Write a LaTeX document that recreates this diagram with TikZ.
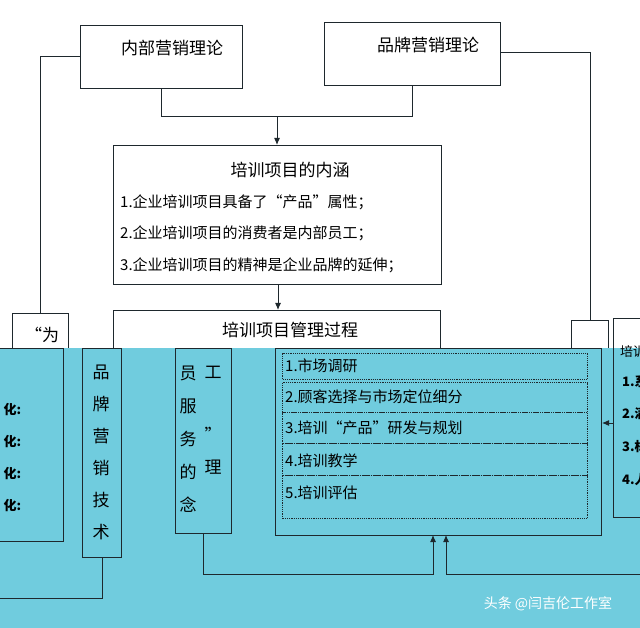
\documentclass[tikz,border=0pt]{standalone}
\usepackage{fontspec}
\setmainfont{Noto Sans CJK SC}
\usetikzlibrary{arrows.meta,positioning}
\definecolor{tealBg}{RGB}{112,204,222}
\definecolor{edge}{RGB}{30,40,45}
\tikzstyle{arrow} = [draw=edge, -{Latex[length=7pt,width=6pt]}, line width=1pt]
\tikzstyle{line} = [draw=edge, line width=1pt]
\tikzstyle{theoryBlock} = [draw=edge, line width=1pt, rectangle, anchor=north west,
    inner sep=0pt, font=\fontsize{17}{20}\selectfont]
\tikzstyle{itemText} = [anchor=west, inner sep=0pt, font=\fontsize{15}{18}\selectfont]
\tikzstyle{stepBlock} = [draw=edge, line width=1.2pt, densely dotted, anchor=north west,
    minimum width=305pt, inner sep=0pt]
\tikzstyle{colChar} = [inner sep=0pt, font=\fontsize{17}{20}\selectfont]

\begin{document}
\begin{tikzpicture}[x=1pt, y=-1pt]
      \useasboundingbox (0,0) rectangle (640,628);
      \clip (0,0) rectangle (640,628);
      % upper part
      \node [theoryBlock, minimum width=162pt, minimum height=63pt] (inner) at (80,25) {};
      \node at (172,48) [font=\fontsize{17}{20}\selectfont] {内部营销理论};
      \node [theoryBlock, minimum width=176pt, minimum height=63pt] (brand) at (324,22) {};
      \node at (428,45) [font=\fontsize{17}{20}\selectfont] {品牌营销理论};

      \node [theoryBlock, minimum width=328pt, minimum height=139pt] (meaning) at (113,145) {};
      \node at (290,170) [font=\fontsize{17}{20}\selectfont] {培训项目的内涵};
      \node [itemText] at (120,202) {1.企业培训项目具备了“产品”属性；};
      \node [itemText] at (120,233) {2.企业培训项目的消费者是内部员工；};
      \node [itemText] at (120,265) {3.企业培训项目的精神是企业品牌的延伸；};

      \node [theoryBlock, minimum width=327pt, minimum height=80pt] (process) at (113,310) {};
      \node at (290,330) [font=\fontsize{17}{20}\selectfont] {培训项目管理过程};
      \node [theoryBlock, minimum width=56pt, minimum height=60pt] (serve) at (12,313) {};
      \node at (42,335) [font=\fontsize{17}{20}\selectfont] {“为};
      \node [theoryBlock, minimum width=37pt, minimum height=60pt] (rightTop) at (571,320) {};

      \coordinate (join) at (277,117);
      \path [line] (inner.south) |- (join);
      \path [line] (brand.south) |- (join);
      \path [arrow] (join) -- (meaning.north -| join);
      \path [arrow] (meaning.south -| 278,0) -- (process.north -| 278,0);
      \path [line] (inner.west |- 0,57) -| (serve.north -| 40,0);
      \path [line] (brand.east |- 0,53) -| (rightTop.north -| 590,0);

      % lower part
      \fill [tealBg] (0,348) rectangle (640,628);
      \node [theoryBlock, minimum width=80pt, minimum height=193pt] (cultureBox) at (-17,348) {};
      \foreach \y in {410,442,474,506}
        \node [anchor=west, font=\fontsize{13}{16}\selectfont\bfseries] at (0,\y) {化:};
      \node [theoryBlock, minimum width=39pt, minimum height=209pt] (tech) at (82,348) {};
      \foreach \c [count=\i] in {品,牌,营,销,技,术}
        \node [colChar] at (101,340+32*\i) {\c};
      \node [theoryBlock, minimum width=56pt, minimum height=185pt] (idea) at (175,348) {};
      \foreach \c [count=\i] in {员,服,务,的,念}
        \node [colChar] at (188,340+33*\i) {\c};
      \node [colChar] at (213,372) {工};
      \node [colChar] at (213,434) {”};
      \node [colChar] at (213,467) {理};

      \node [theoryBlock, minimum width=326pt, minimum height=187pt] (steps) at (275,348) {};
      \node [stepBlock, minimum height=26pt] (s1) at (282,353) {};
      \node [stepBlock, minimum height=30pt] (s2) at (282,382) {};
      \node [stepBlock, minimum height=31pt] (s3) at (282,412) {};
      \node [stepBlock, minimum height=32pt] (s4) at (282,443) {};
      \node [stepBlock, minimum height=43pt] (s5) at (282,475) {};
      \node [itemText] at (285,366) {1.市场调研};
      \node [itemText] at (285,397) {2.顾客选择与市场定位细分};
      \node [itemText] at (285,428) {3.培训“产品”研发与规划};
      \node [itemText] at (285,461) {4.培训教学};
      \node [itemText] at (285,493) {5.培训评估};

      \node [theoryBlock, minimum width=50pt, minimum height=199pt] (ability) at (613,318) {};
      \node [itemText, font=\fontsize{13}{16}\selectfont] at (620,352) {培训};
      \foreach \t/\y in {1.系/382,2.满/414,3.标/447,4.人/480}
        \node [itemText, font=\fontsize{13}{16}\selectfont\bfseries] at (622,\y) {\t};

      \path [line] (tech.south) |- (0,598);
      \path [arrow] (idea.south) |- (433,574) -- (433,535);
      \path [arrow] (640,574) -| (446,535);
      \path [arrow] (ability.west |- 0,423) -- (steps.east |- 0,423);
      \node [text=white, font=\fontsize{14}{17}\selectfont] (mark) at (548,604) {头条 @闫吉伦工作室};
\end{tikzpicture}
\end{document}
